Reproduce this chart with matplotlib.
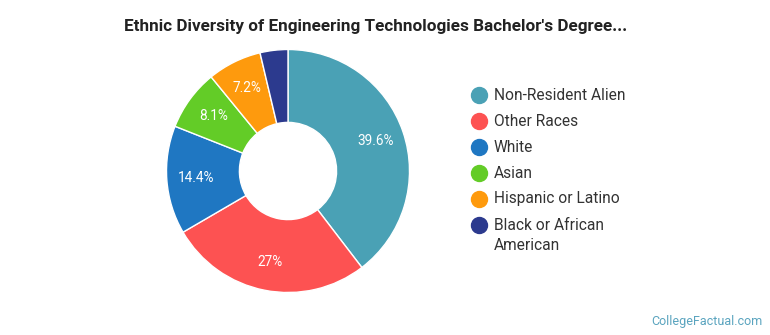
import matplotlib
matplotlib.use("Agg")
import numpy as np
import matplotlib.pyplot as plt

plt.rcParams['font.family'] = ['Roboto', 'DejaVu Sans']

# data
groups = ["Non-Resident Alien", "Other Races", "White", "Asian",
          "Hispanic or Latino", "Black or African\nAmerican"]
shares = [39.6, 27.0, 14.4, 8.1, 7.2, 3.7]
pct_labels = ["39.6%", "27%", "14.4%", "8.1%", "7.2%", ""]
colors = ["#4aa1b5", "#fd5252", "#1f77c2", "#63cc27", "#fe9a0d", "#2c3a8e"]

W, H = 770, 335
fig = plt.figure(figsize=(W / 100, H / 100), dpi=100)

# donut axes: centre (288,171) px, radius ~121 px
cx, cy, R = 288, 171, 121.5
ax = fig.add_axes([(cx - R) / W, (H - cy - R) / H, 2 * R / W, 2 * R / H])
wedges, texts = ax.pie(shares, colors=colors, startangle=90, counterclock=False,
                       radius=1, wedgeprops=dict(width=0.6, edgecolor="white", linewidth=1))
for w, lab in zip(wedges, pct_labels):
    ang = np.deg2rad((w.theta1 + w.theta2) / 2)
    ax.text(0.76 * np.cos(ang), 0.76 * np.sin(ang), lab, ha="center", va="center",
            color="white", fontsize=9.8)
ax.set_xlim(-1, 1)
ax.set_ylim(-1, 1)
ax.set_aspect("auto")
ax.axis("off")

fig.text(376 / W, 1 - 27 / H, "Ethnic Diversity of Engineering Technologies Bachelor's Degree...",
         ha="center", va="center", fontsize=12.3, fontweight="bold", color="#222222")

# legend drawn by hand: circle + label, 26 px per row, 21 px per wrapped line
lax = fig.add_axes([0, 0, 1, 1])
lax.set_xlim(0, W)
lax.set_ylim(H, 0)
lax.axis("off")
y = 95
for name, c in zip(groups, colors):
    lax.plot(479, y, marker="o", markersize=11.5, color=c, linestyle="none")
    for k, line in enumerate(name.split("\n")):
        lax.text(494, y + 21 * k, line, ha="left", va="center", fontsize=11.2,
                 color="#333333")
    y += 26

fig.text(763 / W, 1 - 321 / H, "CollegeFactual.com", ha="right", va="center",
         fontsize=9, color="#5aa4bf")

fig.savefig("out.png", dpi=100)
